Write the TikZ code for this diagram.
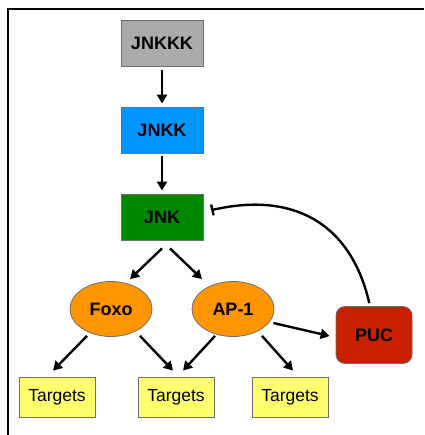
\documentclass[tikz,border=0pt]{standalone}
\usepackage{fontspec}
\setmainfont{Liberation Sans}
\usetikzlibrary{arrows.meta,calc,shapes.geometric}
\definecolor{kinasegrey}{RGB}{170, 172, 170}
\definecolor{kinaseblue}{RGB}{0, 150, 255}
\definecolor{kinasegreen}{RGB}{0, 135, 0}
\definecolor{tforange}{RGB}{255, 150, 0}
\definecolor{pucred}{RGB}{200, 32, 0}
\definecolor{targetyellow}{RGB}{255, 255, 110}
\definecolor{edgegrey}{RGB}{110, 110, 110}
\tikzset{
  kinase/.style={
    draw=edgegrey,
    line width=0.8pt,
    minimum width=82pt,
    minimum height=46pt,
    inner sep=0pt,
    font=\fontsize{18}{20}\selectfont\bfseries,
  },
  factor/.style={
    ellipse,
    draw=edgegrey,
    line width=0.8pt,
    fill=tforange,
    minimum width=82pt,
    minimum height=55pt,
    inner sep=0pt,
    font=\fontsize{18}{20}\selectfont\bfseries,
  },
  target/.style={
    draw=edgegrey,
    line width=0.8pt,
    fill=targetyellow,
    minimum width=76pt,
    minimum height=40pt,
    inner sep=0pt,
    font=\fontsize{17.5}{20}\selectfont,
  },
  act/.style={
    line width=2.4pt,
    -{Triangle[length=9pt,width=10pt]},
  },
  inhib/.style={
    line width=2.4pt,
    -{Bar[width=11pt,line width=2.4pt]},
  },
}

\begin{document}
\begin{tikzpicture}[x=1pt,y=-1pt]
  \useasboundingbox (0,0) rectangle (424,435);

  % Frame
  \draw[line width=2.5pt] (8,435) -- (8,9) -- (424,9);

  % Kinase cascade
  \node[kinase, fill=kinasegrey] (jnkkk) at (162,43) {JNKKK};
  \node[kinase, fill=kinaseblue] (jnkk) at (162,130) {JNKK};
  \node[kinase, fill=kinasegreen] (jnk) at (162,217) {JNK};

  % Transcription factors
  \node[factor] (foxo) at (111,309) {Foxo};
  \node[factor] (ap1) at (233,309) {AP-1};
  \node[rounded corners=9pt, draw=edgegrey, line width=0.8pt, fill=pucred,
    minimum width=76pt, minimum height=57pt, inner sep=0pt,
    font=\fontsize{18}{20}\selectfont\bfseries] (puc) at (374,335) {PUC};

  % Targets
  \node[target] (tgtfoxo) at (57,397) {Targets};
  \node[target] (tgtboth) at (176,397) {Targets};
  \node[target] (tgtap) at (290,397) {Targets};

  % Activation arrows
  \draw[act, shorten <=4pt, shorten >=3pt] (jnkkk) -- (jnkk);
  \draw[act, shorten <=3pt, shorten >=3pt] (jnkk) -- (jnk);
  \draw[act] ($(jnk.south)+(0,8)$) -- ($(foxo.north)+(19,-2)$);
  \draw[act] ($(jnk.south)+(8,8)$) -- ($(ap1.north)+(-31,-2)$);
  \draw[act] ($(foxo.south)+(-24,-1)$) -- ($(tgtfoxo.north)+(-4,-6)$);
  \draw[act] ($(foxo.south)+(29,-1)$) -- ($(tgtboth.north)+(-3,-6)$);
  \draw[act] ($(ap1.south)+(-18,-1)$) -- ($(tgtboth.north)+(7,-6)$);
  \draw[act] ($(ap1.south)+(29,-1)$) -- ($(tgtap.north)+(3,-6)$);
  \draw[act] ($(ap1.east)+(-1,14)$) -- ($(puc.west)+(-6,1)$);

  % Feedback inhibition
  \draw[inhib, shorten <=3pt, shorten >=8pt]
    ($(puc.north)+(-4,0)$) .. controls (350,220) and (290,192) .. ($(jnk.east)+(0,-5)$);
\end{tikzpicture}
\end{document}
